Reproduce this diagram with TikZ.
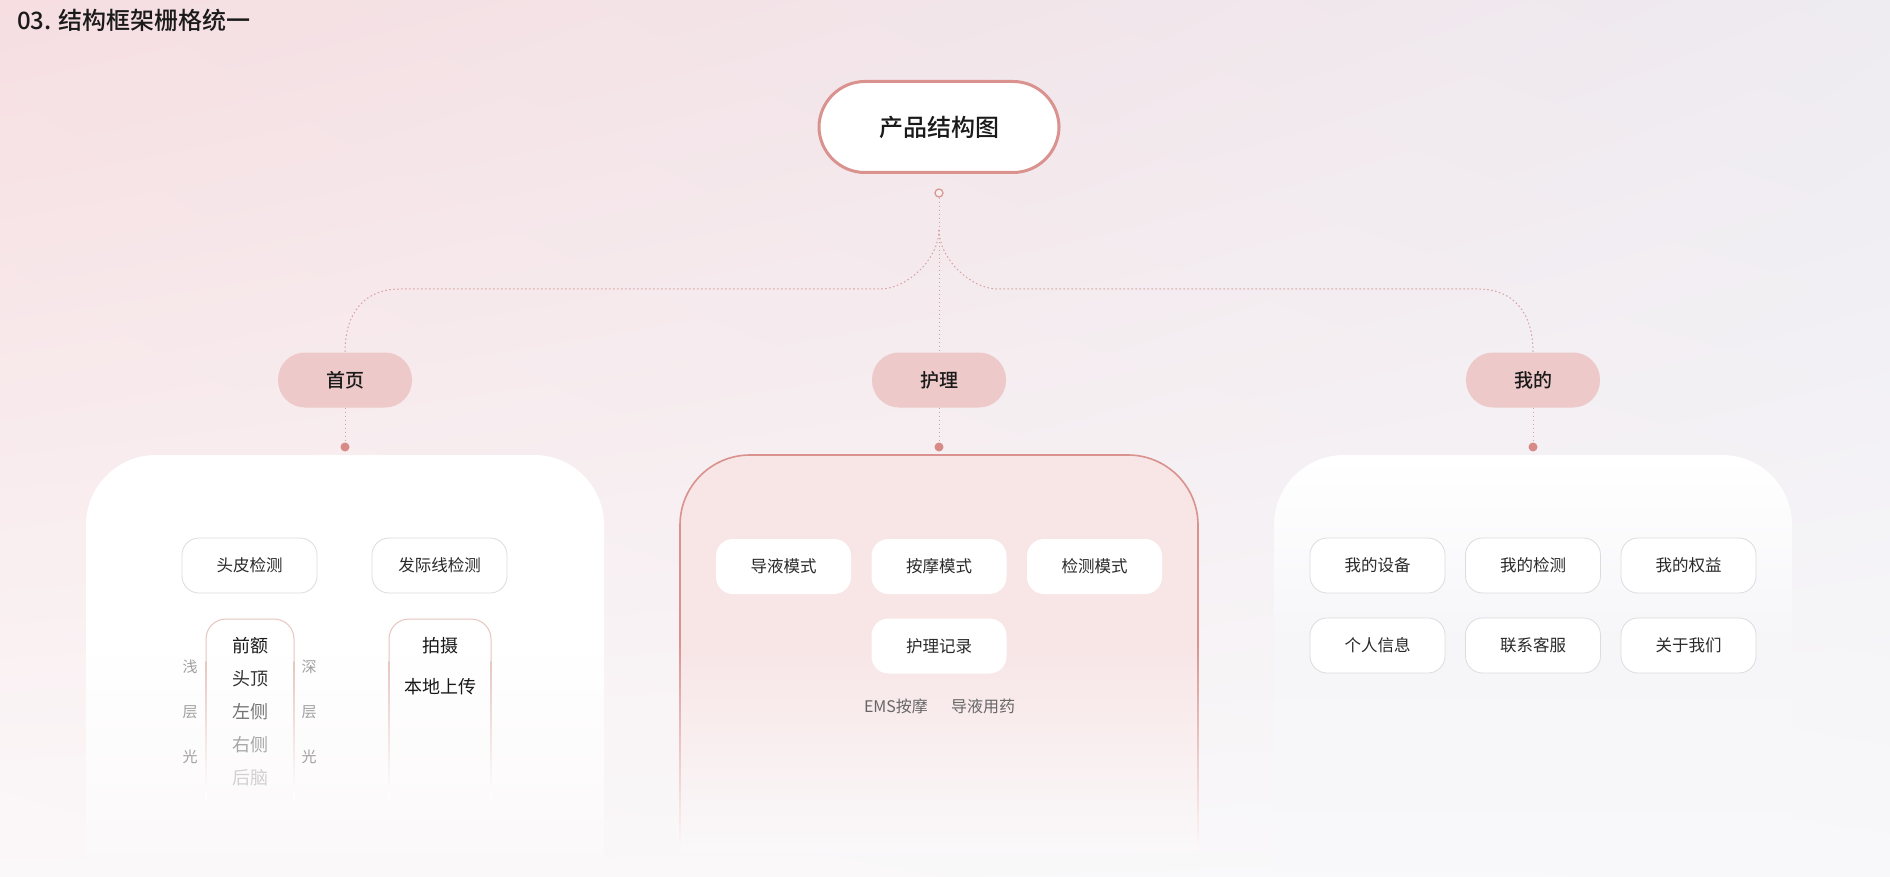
\documentclass[tikz,border=0pt]{standalone}
\usepackage{fontspec}
\setmainfont{Noto Sans CJK SC}
\newfontfamily\medfont{Noto Sans CJK SC Medium}
\usetikzlibrary{shadings}
\definecolor{bgUL}{HTML}{F6DEE1}
\definecolor{bgUR}{HTML}{EEEBF1}
\definecolor{bgLL}{HTML}{FBF8F9}
\definecolor{bgLR}{HTML}{F8F8FA}
\definecolor{pillfill}{HTML}{EDC9C9}
\definecolor{pinkline}{HTML}{D9928E}
\definecolor{dotc}{HTML}{D88A86}
\definecolor{connc}{HTML}{D9A0A0}
\definecolor{boxline}{HTML}{DCDCDE}
\definecolor{listline}{HTML}{E7C6C1}
\definecolor{panelpink}{HTML}{F8E5E6}
\definecolor{rpanel}{HTML}{F6F6F9}
\definecolor{ink}{HTML}{1A1A1A}
\definecolor{txt}{HTML}{2A2A2A}
\definecolor{side}{HTML}{A0A0A0}
\tikzset{
  conn/.style={draw=connc, line width=1pt, dash pattern=on 1.5pt off 2.5pt},
  pill/.style={rounded corners=27pt, fill=pillfill, minimum width=134pt, minimum height=55pt,
    font=\fontsize{19}{19}\selectfont\medfont, text=ink, inner sep=0pt},
  cbox/.style={rounded corners=17pt, draw=boxline, line width=0.8pt, fill=white,
    minimum width=135pt, minimum height=55pt, font=\fontsize{16.5}{16.5}\selectfont, text=txt, inner sep=0pt},
  wbox/.style={cbox, draw=none},
  dotn/.style={circle, fill=dotc, minimum size=9pt, inner sep=0pt},
  item/.style={font=\fontsize{18}{18}\selectfont, inner sep=0pt},
  sidel/.style={font=\fontsize{15}{15}\selectfont, text=side, inner sep=0pt},
  note/.style={font=\fontsize{16}{16}\selectfont, text=black!60, inner sep=0pt}
}
\begin{document}
\begin{tikzpicture}[x=1pt,y=-1pt]
\useasboundingbox (0,0) rectangle (1890,877);
% background
\shade[upper left=bgUL, upper right=bgUR, lower left=bgLL, lower right=bgLR] (0,0) rectangle (1890,877);

% title
\node[anchor=west, font=\fontsize{24}{24}\selectfont\medfont, text=ink, inner sep=0pt] (title) at (17,20) {03. 结构框架栅格统一};

% ---------- panels ----------
% left panel
\fill[white] (86,641) -- (86,525) arc[start angle=180,end angle=270,radius=70] -- (534,455)
   arc[start angle=270,end angle=360,radius=70] -- (604,641) -- cycle;
\shade[top color=white, bottom color=bgLL] (86,640) rectangle (604,870);
% centre panel
\fill[panelpink] (680,641) -- (680,525) arc[start angle=180,end angle=270,radius=70] -- (1128,455)
   arc[start angle=270,end angle=360,radius=70] -- (1198,641) -- cycle;
\shade[top color=panelpink, bottom color=bgLL!60!bgLR] (680,640) rectangle (1198,850);
\draw[pinkline, line width=1.6pt] (680,641) -- (680,525) arc[start angle=180,end angle=270,radius=70] -- (1128,455)
   arc[start angle=270,end angle=360,radius=70] -- (1198,641);
\shade[top color=pinkline, bottom color=panelpink!30!white] (679.2,640) rectangle (680.8,848);
\shade[top color=pinkline, bottom color=panelpink!30!white] (1197.2,640) rectangle (1198.8,848);
% right panel
\shade[top color=white, bottom color=rpanel] (1274,641) -- (1274,525) arc[start angle=180,end angle=270,radius=70] -- (1722,455)
   arc[start angle=270,end angle=360,radius=70] -- (1792,641) -- cycle;
\shade[top color=rpanel, bottom color=bgLR] (1274,640) rectangle (1792,870);

% ---------- hierarchy ----------
\node[rounded corners=46pt, draw=pinkline, line width=3pt, fill=white, minimum width=240pt, minimum height=91pt,
  font=\fontsize{24}{24}\selectfont\medfont, text=ink, inner sep=0pt] (top) at (939,127) {产品结构图};
\node[circle, draw=pinkline, line width=1.2pt, fill=white!70!pillfill, minimum size=8pt, inner sep=0pt] (hub) at (939,193) {};
\coordinate (split) at (939,230);

\node[pill] (home) at (345,380) {首页};
\node[pill] (care) at (939,380) {护理};
\node[pill] (mine) at (1533,380) {我的};

\node[dotn] (dh) at (345,447) {};
\node[dotn] (dc) at (939,447) {};
\node[dotn] (dm) at (1533,447) {};

\draw[conn] (hub.south) -- (care.north);
\draw[conn] (split) .. controls (939,258) and (908,289) .. (880,289) -- (400,289)
   .. controls (365,289) and (345,312) .. (home.north);
\draw[conn] (split) .. controls (939,258) and (970,289) .. (998,289) -- (1478,289)
   .. controls (1513,289) and (1533,312) .. (mine.north);
\draw[conn] (home.south) -- (dh.north);
\draw[conn] (care.south) -- (dc.north);
\draw[conn] (mine.south) -- (dm.north);

% ---------- left panel content ----------
\node[cbox] (scalp) at (249.5,565.5) {头皮检测};
\node[cbox] (hair) at (439.5,565.5) {发际线检测};

% list frames
\draw[listline, line width=1pt] (206,662) -- (206,639) arc[start angle=180,end angle=270,radius=20] -- (274,619)
   arc[start angle=270,end angle=360,radius=20] -- (294,662);
\shade[top color=listline, bottom color=white] (205.5,661) rectangle (206.5,800);
\shade[top color=listline, bottom color=white] (293.5,661) rectangle (294.5,800);
\draw[listline, line width=1pt] (389,662) -- (389,639) arc[start angle=180,end angle=270,radius=20] -- (471,619)
   arc[start angle=270,end angle=360,radius=20] -- (491,662);
\shade[top color=listline, bottom color=white] (388.5,661) rectangle (389.5,800);
\shade[top color=listline, bottom color=white] (490.5,661) rectangle (491.5,800);

\node[item, text=black!90] (l1) at (250,646) {前额};
\node[item, text=black!80] (l2) at (250,679) {头顶};
\node[item, text=black!55] (l3) at (250,712) {左侧};
\node[item, text=black!35] (l4) at (250,745) {右侧};
\node[item, text=black!18] (l5) at (250,778) {后脑};

\node[sidel] (s1) at (190,667) {浅};
\node[sidel] (s2) at (190,712) {层};
\node[sidel] (s3) at (190,757) {光};
\node[sidel] (d1) at (309,667) {深};
\node[sidel] (d2) at (309,712) {层};
\node[sidel] (d3) at (309,757) {光};

\node[item, text=black!90] (p1) at (440,646) {拍摄};
\node[item, text=black!90] (p2) at (440,687) {本地上传};

% ---------- centre panel content ----------
\node[wbox] (m1) at (783.5,566.5) {导液模式};
\node[wbox] (m2) at (939,566.5) {按摩模式};
\node[wbox] (m3) at (1094.5,566.5) {检测模式};
\node[wbox] (m4) at (939,646) {护理记录};
\node[note] (n1) at (896,706) {EMS按摩};
\node[note] (n2) at (983,706) {导液用药};

% ---------- right panel content ----------
\node[cbox] (r1) at (1377.5,565.5) {我的设备};
\node[cbox] (r2) at (1533,565.5) {我的检测};
\node[cbox] (r3) at (1688.5,565.5) {我的权益};
\node[cbox] (r4) at (1377.5,645.5) {个人信息};
\node[cbox] (r5) at (1533,645.5) {联系客服};
\node[cbox] (r6) at (1688.5,645.5) {关于我们};
\end{tikzpicture}
\end{document}
